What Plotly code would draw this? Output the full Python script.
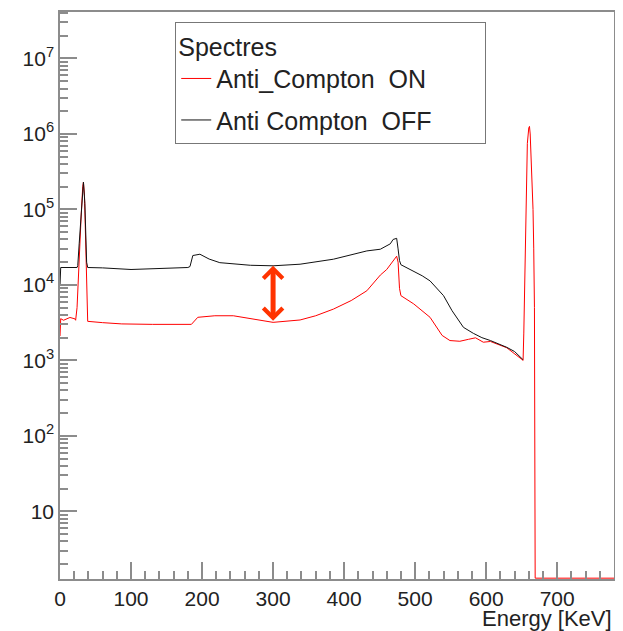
import math
import plotly.graph_objects as go

# Spectra (energy in keV, counts per bin)
EMPTY = 1.3  # empty bins drawn on the floor of the log axis

energy_off = [0, 1, 24, 25, 27, 29, 31, 33, 35, 36, 37.5, 39, 60, 100, 140, 180, 183, 187, 197,
              210, 225, 250, 268, 300, 338, 385, 432, 451, 465, 469, 474, 476, 478, 480, 490, 498,
              510, 521, 530, 540, 552, 560, 568, 582, 594, 606, 618, 629, 640, 650, 652]
counts_off = [1.0e4, 1.7e4, 1.7e4, 1.8e4, 3.5e4, 7e4, 1.4e5, 2.3e5, 1.2e5, 5e4, 2e4, 1.7e4, 1.68e4,
              1.6e4, 1.65e4, 1.7e4, 1.75e4, 2.45e4, 2.55e4, 2.2e4, 1.97e4, 1.87e4, 1.82e4, 1.79e4,
              1.88e4, 2.19e4, 2.82e4, 2.97e4, 3.5e4, 4.0e4, 4.14e4, 3.0e4, 2.1e4, 1.85e4, 1.65e4,
              1.5e4, 1.32e4, 1.13e4, 9.1e3, 7.2e3, 4.55e3, 3.5e3, 2.74e3, 2.28e3, 2.0e3, 1.83e3,
              1.66e3, 1.49e3, 1.31e3, 1.08e3, 1.02e3]

energy_on = [0, 1, 5, 14, 21, 22, 24, 26, 28, 30, 32, 33, 34.5, 36, 37.5, 39, 60, 87, 130, 171,
             185, 194, 218, 244, 270, 300, 338, 360, 385, 410, 432, 451, 460, 468, 474, 476, 478,
             480, 498, 521, 538, 549, 563, 575, 585, 596, 606, 629, 650, 652, 653, 654, 655, 656,
             657, 658, 660, 661, 662, 663, 664, 666, 667, 668, 669, 780]
counts_on = [2.1e3, 3.57e3, 3.4e3, 3.7e3, 3.55e3, 3.4e3, 5e3, 1.5e4, 4e4, 9e4, 2e5, 2.3e5, 1.5e5,
             4e4, 8e3, 3.29e3, 3.16e3, 3.04e3, 3.0e3, 2.98e3, 3.0e3, 3.72e3, 3.9e3, 3.9e3, 3.56e3,
             3.19e3, 3.43e3, 3.9e3, 4.78e3, 6.2e3, 8.36e3, 1.35e4, 1.6e4, 2.0e4, 2.4e4, 2.0e4, 9e3,
             7.2e3, 5.6e3, 3.72e3, 2.14e3, 1.83e3, 1.79e3, 1.9e3, 1.99e3, 1.74e3, 1.78e3, 1.47e3,
             1.06e3, 1.0e3, 2.3e3, 9e3, 4e4, 1.4e5, 3e5, 7.5e5, 1.2e6, 1.26e6, 1.0e6, 6e5, 3.2e5,
             1e5, 3e4, 5e3, EMPTY, EMPTY]

x_ticks = [0, 100, 200, 300, 400, 500, 600, 700]
y_ticks = [10, 1e2, 1e3, 1e4, 1e5, 1e6, 1e7]
y_labels = ["10", "10<sup>2</sup>", "10<sup>3</sup>", "10<sup>4</sup>",
            "10<sup>5</sup>", "10<sup>6</sup>", "10<sup>7</sup>"]
arrow_energy = 300

FONT = "Liberation Sans, Arial, Helvetica, sans-serif"
AXIS_GREY = "#8c8c8c"
PAD = "\u00a0" * 7  # extra room on the right of the legend box

fig = go.Figure()

fig.add_trace(go.Scatter(x=energy_on, y=counts_on, mode="lines", name="Anti_Compton\u00a0 ON",
                         legendgroup="on", line=dict(color="#ff0000", width=1)))
fig.add_trace(go.Scatter(x=energy_off, y=counts_off, mode="lines",
                         name="Anti Compton\u00a0 OFF" + PAD,
                         legendgroup="off", line=dict(color="#111111", width=1)))

# double arrow between the two spectra at 300 keV
top = counts_off[energy_off.index(arrow_energy)]
bottom = counts_on[energy_on.index(arrow_energy)]
fig.add_annotation(x=arrow_energy, y=math.log10(top), ax=arrow_energy, ay=math.log10(bottom),
                   xref="x", yref="y", axref="x", ayref="y", text="", showarrow=True,
                   arrowside="end+start", arrowhead=4, startarrowhead=4,
                   arrowsize=0.75, startarrowsize=0.75, arrowwidth=5, arrowcolor="#ff3300")

# x title, right aligned as in ROOT
fig.add_annotation(text="Energy [KeV]", xref="paper", yref="paper", x=1, y=-0.069,
                   xanchor="right", yanchor="middle", showarrow=False,
                   font=dict(family=FONT, size=22, color="#222222"))

minor_y = [m * 10 ** e for e in range(0, 8) for m in range(2, 10)]

fig.update_xaxes(range=[0, 780], tickvals=x_ticks, ticks="inside", ticklen=17,
                 tickcolor=AXIS_GREY, tickwidth=1.5, showline=True, linecolor=AXIS_GREY,
                 linewidth=1.5, mirror=True, showgrid=False, zeroline=False,
                 tickfont=dict(family=FONT, size=21, color="#222222"),
                 minor=dict(dtick=20, ticks="inside", ticklen=8, tickcolor=AXIS_GREY,
                            tickwidth=1.5, showgrid=False))
fig.update_yaxes(type="log", range=[0.103, 7.616], tickmode="array", tickvals=y_ticks,
                 ticktext=y_labels, ticks="inside", ticklen=17, tickcolor=AXIS_GREY,
                 tickwidth=1.5, showline=True, linecolor=AXIS_GREY, linewidth=1.5, mirror=True,
                 showgrid=False, zeroline=False,
                 tickfont=dict(family=FONT, size=21, color="#222222"),
                 minor=dict(tickmode="array", tickvals=minor_y, ticks="inside", ticklen=8,
                            tickcolor=AXIS_GREY, tickwidth=1.5, showgrid=False))

# the page adds an 8px body margin, so the figure is a bit smaller than the window
fig.update_layout(
    width=615, height=623,
    margin=dict(l=52, r=9, t=2, b=52),
    paper_bgcolor="white", plot_bgcolor="white",
    font=dict(family=FONT, color="#222222"),
    legend=dict(x=0.208, y=0.982, xanchor="left", yanchor="top",
                title=dict(text="Spectres", font=dict(family=FONT, size=25)),
                font=dict(family=FONT, size=25, color="#222222"),
                bgcolor="white", bordercolor="#777777", borderwidth=1,
                tracegroupgap=6, traceorder="grouped"),
    showlegend=True,
)

fig.write_html("out.html")
